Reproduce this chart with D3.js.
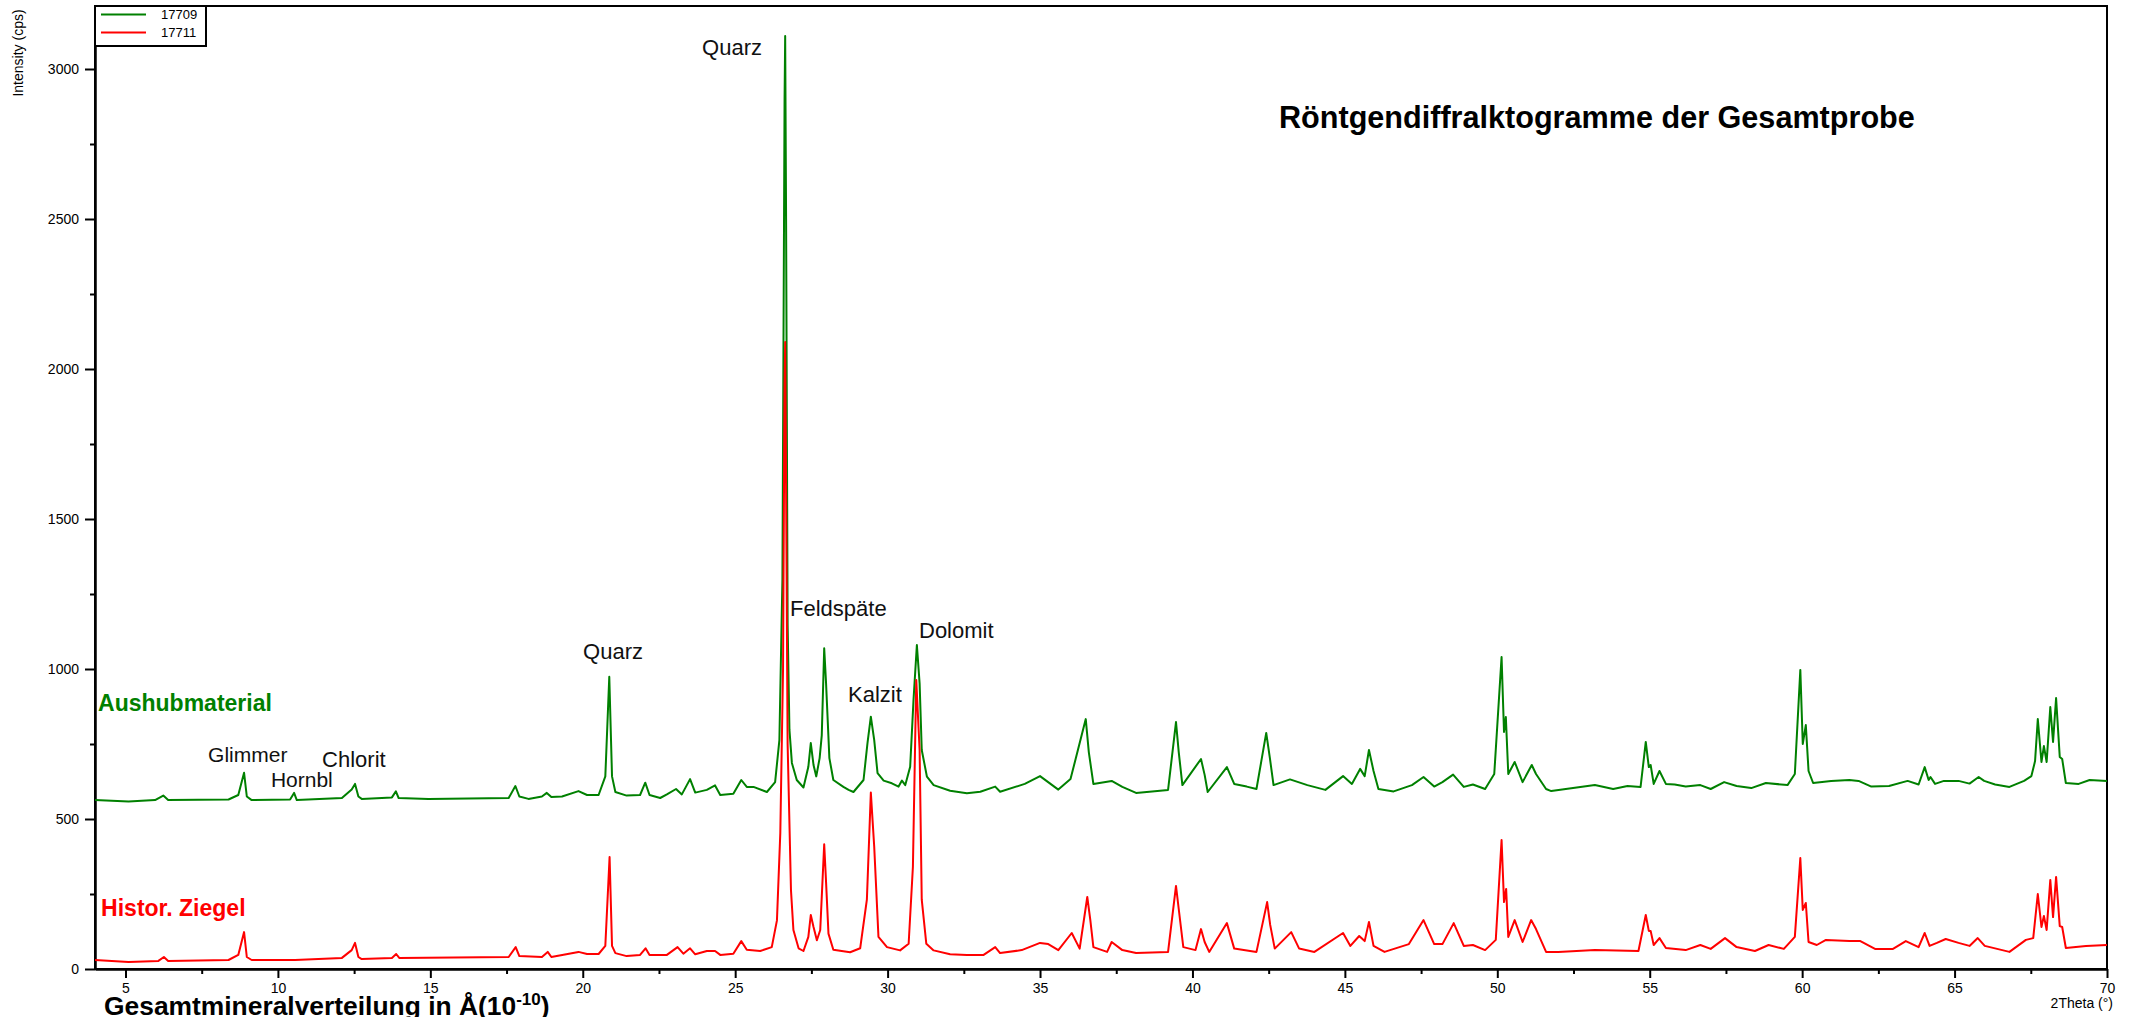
<!DOCTYPE html>
<html lang="de">
  <head>
    <meta charset="utf-8" />
    <title>Röntgendiffralktogramme der Gesamtprobe</title>
    <script src="https://d3js.org/d3.v7.min.js"></script>
    <style>
      body {
        margin: 0;
        background: #fff;
        font-family: Arial, "Liberation Sans", sans-serif;
      }
      svg {
        display: block;
      }
      .axis path,
      .axis line {
        stroke: #000;
        stroke-width: 2;
      }
      .axis text {
        font-size: 14px;
        fill: #000;
        font-family: Arial, "Liberation Sans", sans-serif;
      }
      .trace {
        fill: none;
        stroke-width: 2;
        stroke-linejoin: round;
      }
    </style>
  </head>
  <body>
    <div id="chart"></div>
    <script>
      /* ----------------------------- DATA ----------------------------- */
      // [2Theta (°), Intensity (cps)]
      const sample17709 = [
        [4.0,563],[5.1,558],[5.97,563],[6.24,578],[6.4,563],[8.38,565],[8.7,580],[8.89,654],[8.98,575],[9.14,563],
        [10.4,565],[10.53,587],[10.62,563],[12.1,570],[12.42,598],[12.53,617],[12.64,575],[12.75,567],[13.74,572],
        [13.87,592],[13.96,570],[14.94,567],[17.57,570],[17.79,610],[17.92,575],[18.22,567],[18.66,575],[18.82,587],
        [18.97,573],[19.32,575],[19.86,593],[20.14,580],[20.52,580],[20.74,642],[20.87,974],[20.96,642],[21.07,590],
        [21.44,578],[21.88,580],[22.05,621],[22.19,580],[22.54,570],[22.76,582],[23.06,600],[23.25,582],[23.52,633],
        [23.69,588],[24.07,597],[24.34,612],[24.51,580],[24.94,584],[25.2,630],[25.38,607],[25.6,607],[26.04,590],
        [26.31,623],[26.45,763],[26.55,1300],[26.62,2900],[26.64,3110],[26.67,2500],[26.72,1150],[26.78,797],
        [26.86,687],[27.02,630],[27.24,605],[27.4,674],[27.48,753],[27.57,680],[27.66,642],[27.77,703],[27.84,779],
        [27.92,1069],[27.98,955],[28.09,703],[28.22,630],[28.55,607],[28.72,597],[28.88,590],[29.21,630],[29.34,753],
        [29.45,841],[29.56,764],[29.67,653],[29.87,628],[30.14,619],[30.36,608],[30.47,628],[30.58,613],[30.74,674],
        [30.85,897],[30.96,1080],[31.05,952],[31.12,730],[31.29,641],[31.51,613],[32.05,594],[32.6,586],[33.04,591],
        [33.53,608],[33.69,591],[34.5,617],[35.0,643],[35.6,598],[36.0,633],[36.5,833],[36.6,723],[36.75,617],
        [37.35,627],[37.7,607],[38.15,587],[39.2,597],[39.46,823],[39.55,723],[39.67,613],[40.28,700],[40.4,647],
        [40.5,590],[41.13,673],[41.37,617],[41.78,608],[42.1,600],[42.42,787],[42.54,703],[42.66,613],[43.2,632],
        [43.77,613],[44.36,597],[44.94,643],[45.23,617],[45.5,667],[45.65,643],[45.79,730],[45.94,660],[46.1,600],
        [46.6,592],[47.2,613],[47.58,640],[47.93,608],[48.2,623],[48.55,648],[48.9,607],[49.2,615],[49.6,600],
        [49.9,650],[50.14,1040],[50.22,790],[50.28,840],[50.36,650],[50.57,690],[50.83,623],[51.13,680],[51.27,650],
        [51.6,600],[51.77,593],[53.2,613],[53.8,600],[54.27,610],[54.7,607],[54.87,757],[54.97,673],[55.03,680],
        [55.13,617],[55.32,660],[55.53,617],[55.82,615],[56.18,608],[56.66,613],[57.0,600],[57.44,623],[57.85,610],
        [58.33,603],[58.81,620],[59.52,613],[59.76,650],[59.94,997],[60.02,750],[60.12,813],[60.21,660],[60.36,620],
        [60.95,627],[61.55,630],[61.85,627],[62.27,608],[62.85,610],[63.46,627],[63.82,615],[64.02,673],[64.15,630],
        [64.21,640],[64.36,617],[64.65,627],[65.13,627],[65.49,618],[65.79,640],[65.97,627],[66.33,615],[66.8,607],
        [67.28,627],[67.52,643],[67.64,693],[67.73,833],[67.85,690],[67.93,743],[68.02,690],[68.14,873],[68.23,757],
        [68.33,903],[68.45,707],[68.53,700],[68.65,620],[69.07,617],[69.43,630],[70.0,627]
      ];

      const sample17711 = [
        [4.0,30],[5.1,23],[6.08,27],[6.26,40],[6.4,27],[8.38,30],[8.7,47],[8.89,123],[8.98,40],[9.14,30],[10.56,30],
        [12.1,37],[12.42,63],[12.53,87],[12.64,40],[12.75,33],[13.74,37],[13.88,50],[13.98,37],[17.57,40],[17.8,73],
        [17.92,43],[18.66,40],[18.85,57],[18.97,40],[19.86,57],[20.14,50],[20.52,50],[20.74,77],[20.88,373],[20.96,77],
        [21.07,53],[21.44,43],[21.88,47],[22.06,69],[22.19,47],[22.76,47],[23.11,73],[23.3,51],[23.52,69],[23.69,49],
        [24.07,60],[24.34,60],[24.51,47],[24.94,51],[25.2,93],[25.38,64],[25.82,60],[26.2,73],[26.37,162],[26.48,453],
        [26.57,1000],[26.62,1950],[26.64,2090],[26.67,1600],[26.72,750],[26.83,263],[26.91,130],[27.08,69],[27.24,60],
        [27.4,107],[27.48,180],[27.57,140],[27.68,96],[27.79,130],[27.92,416],[27.98,292],[28.06,118],[28.22,64],
        [28.77,56],[29.1,69],[29.32,231],[29.45,588],[29.56,409],[29.7,107],[29.98,73],[30.41,62],[30.69,84],[30.83,341],
        [30.94,963],[31.05,730],[31.12,231],[31.27,84],[31.51,62],[32.05,49],[32.6,47],[33.15,47],[33.53,73],[33.69,53],
        [34.4,63],[35.0,87],[35.27,83],[35.6,63],[36.04,120],[36.3,68],[36.55,240],[36.65,163],[36.75,73],[37.2,57],
        [37.35,90],[37.7,63],[38.15,53],[39.2,57],[39.46,277],[39.55,200],[39.7,73],[40.1,63],[40.28,133],[40.4,90],
        [40.55,57],[41.13,153],[41.37,68],[42.1,57],[42.45,223],[42.55,147],[42.7,68],[43.24,123],[43.5,68],[44.0,57],
        [44.94,120],[45.18,77],[45.47,110],[45.65,93],[45.79,157],[45.94,77],[46.3,57],[47.1,83],[47.58,163],[47.93,83],
        [48.2,83],[48.57,153],[48.9,77],[49.2,80],[49.6,63],[49.95,97],[50.14,430],[50.22,223],[50.29,267],[50.36,107],
        [50.57,163],[50.83,90],[51.11,163],[51.27,133],[51.6,57],[52.0,57],[53.2,63],[54.63,60],[54.87,180],[54.97,127],
        [55.03,127],[55.13,80],[55.32,103],[55.53,70],[56.18,63],[56.66,80],[57.0,67],[57.47,103],[57.85,73],[58.45,60],
        [58.9,80],[59.4,67],[59.76,107],[59.94,370],[60.02,197],[60.12,220],[60.21,90],[60.48,80],[60.78,97],[61.55,93],
        [61.91,93],[62.39,67],[62.98,67],[63.4,93],[63.82,73],[64.02,120],[64.18,77],[64.42,87],[64.71,100],[65.13,87],
        [65.49,77],[65.76,103],[65.99,77],[66.8,57],[67.34,97],[67.58,103],[67.73,250],[67.85,140],[67.93,177],
        [68.02,130],[68.14,297],[68.23,173],[68.33,307],[68.45,143],[68.53,140],[68.65,70],[69.31,77],[70.0,80]
      ];

      const seriesNames = ['17709', '17711'];
      const seriesColors = ['#008000', '#ff0000'];

      const xMajorTicks = d3.range(5, 71, 5);
      const xMinorTicks = d3.range(7.5, 70, 5);
      const yMajorTicks = [0, 500, 1000, 1500, 2000, 2500, 3000];
      const yMinorTicks = [250, 750, 1250, 1750, 2250, 2750];

      // mineral labels, anchored at (2Theta, cps)
      const peakLabels = [
        { text: 'Quarz', x: 25.88, y: 3047, anchor: 'end', size: 22 },
        { text: 'Quarz', x: 20.01, y: 1035, anchor: 'start', size: 22 },
        { text: 'Feldspäte', x: 26.8, y: 1177, anchor: 'start', size: 22 },
        { text: 'Dolomit', x: 31.03, y: 1105, anchor: 'start', size: 22 },
        { text: 'Kalzit', x: 28.7, y: 890, anchor: 'start', size: 22 },
        { text: 'Glimmer', x: 7.71, y: 690, anchor: 'start', size: 21 },
        { text: 'Hornbl', x: 9.77, y: 607, anchor: 'start', size: 21 },
        { text: 'Chlorit', x: 11.45, y: 673, anchor: 'start', size: 22 }
      ];

      const sampleLabels = [
        { text: 'Aushubmaterial', x: 4.1, y: 860, color: '#008000' },
        { text: 'Histor. Ziegel', x: 4.2, y: 177, color: '#ff0000' }
      ];

      /* ---------------------------- LAYOUT ---------------------------- */
      const W = 2138,
        H = 1017,
        m = { t: 6, r: 31, b: 48, l: 95 },
        w = W - m.l - m.r,
        h = H - m.t - m.b;

      const root = d3
        .select('#chart')
        .append('svg')
        .attr('width', W)
        .attr('height', H);

      const g = root.append('g').attr('transform', `translate(${m.l},${m.t})`);

      const x = d3.scaleLinear().domain([4, 70]).range([0, w]);
      const y = d3.scaleLinear().domain([0, 3210]).range([h, 0]);

      /* ----------------------------- AXES ----------------------------- */
      g.append('g')
        .attr('class', 'axis')
        .attr('transform', `translate(0,${h})`)
        .call(d3.axisBottom(x).tickValues(xMinorTicks).tickSize(5).tickFormat('').tickSizeOuter(0));
      g.append('g')
        .attr('class', 'axis')
        .attr('transform', `translate(0,${h})`)
        .call(
          d3.axisBottom(x).tickValues(xMajorTicks).tickSize(9).tickPadding(5)
            .tickFormat(d3.format('d')).tickSizeOuter(0)
        );

      g.append('g')
        .attr('class', 'axis')
        .call(d3.axisLeft(y).tickValues(yMinorTicks).tickSize(5).tickFormat('').tickSizeOuter(0));
      g.append('g')
        .attr('class', 'axis')
        .call(
          d3.axisLeft(y).tickValues(yMajorTicks).tickSize(10).tickPadding(6)
            .tickFormat(d3.format('d')).tickSizeOuter(0)
        );

      // plot frame
      g.append('rect')
        .attr('width', w)
        .attr('height', h)
        .attr('fill', 'none')
        .attr('stroke', '#000')
        .attr('stroke-width', 2);

      /* ---------------------------- TRACES ---------------------------- */
      const line = d3
        .line()
        .x((d) => x(d[0]))
        .y((d) => y(d[1]));

      g.selectAll('path.trace')
        .data([sample17709, sample17711])
        .join('path')
        .attr('class', 'trace')
        .attr('stroke', (d, i) => seriesColors[i])
        .attr('d', line);

      /* ---------------------------- LABELS ---------------------------- */
      g.selectAll('text.peak')
        .data(peakLabels)
        .join('text')
        .attr('class', 'peak')
        .attr('x', (d) => x(d.x))
        .attr('y', (d) => y(d.y))
        .attr('text-anchor', (d) => d.anchor)
        .attr('font-size', (d) => d.size)
        .attr('fill', '#111')
        .text((d) => d.text);

      g.selectAll('text.sample')
        .data(sampleLabels)
        .join('text')
        .attr('class', 'sample')
        .attr('x', (d) => x(d.x))
        .attr('y', (d) => y(d.y))
        .attr('font-size', 23)
        .attr('font-weight', 'bold')
        .attr('fill', (d) => d.color)
        .text((d) => d.text);

      // chart title
      root
        .append('text')
        .attr('x', 1279)
        .attr('y', 128)
        .attr('font-size', 30.6)
        .attr('font-weight', 'bold')
        .attr('fill', '#000')
        .text('Röntgendiffralktogramme der Gesamtprobe');

      // axis titles
      root
        .append('text')
        .attr('transform', 'translate(23,53) rotate(-90)')
        .attr('text-anchor', 'middle')
        .attr('font-size', 14)
        .text('Intensity (cps)');

      root
        .append('text')
        .attr('x', 2113)
        .attr('y', 1008)
        .attr('text-anchor', 'end')
        .attr('font-size', 14)
        .text('2Theta (°)');

      const xt = root
        .append('text')
        .attr('x', 104)
        .attr('y', 1015)
        .attr('font-size', 26.4)
        .attr('font-weight', 'bold');
      xt.append('tspan').text('Gesamtmineralverteilung in Å(10');
      xt.append('tspan').attr('font-size', 17).attr('dy', -10).text('-10');
      xt.append('tspan').attr('dy', 10).text(')');

      /* ---------------------------- LEGEND ---------------------------- */
      const legend = g.append('g');
      legend
        .append('rect')
        .attr('width', 111)
        .attr('height', 40)
        .attr('fill', '#fff')
        .attr('stroke', '#000')
        .attr('stroke-width', 2);

      const row = legend
        .selectAll('g.row')
        .data(seriesNames)
        .join('g')
        .attr('class', 'row')
        .attr('transform', (d, i) => `translate(0,${8.5 + i * 18})`);

      row
        .append('line')
        .attr('x1', 6)
        .attr('x2', 51)
        .attr('stroke', (d, i) => seriesColors[i])
        .attr('stroke-width', 2);

      row
        .append('text')
        .attr('x', 66)
        .attr('y', 4.5)
        .attr('font-size', 13)
        .attr('fill', '#000')
        .text((d) => d);
    </script>
  </body>
</html>
